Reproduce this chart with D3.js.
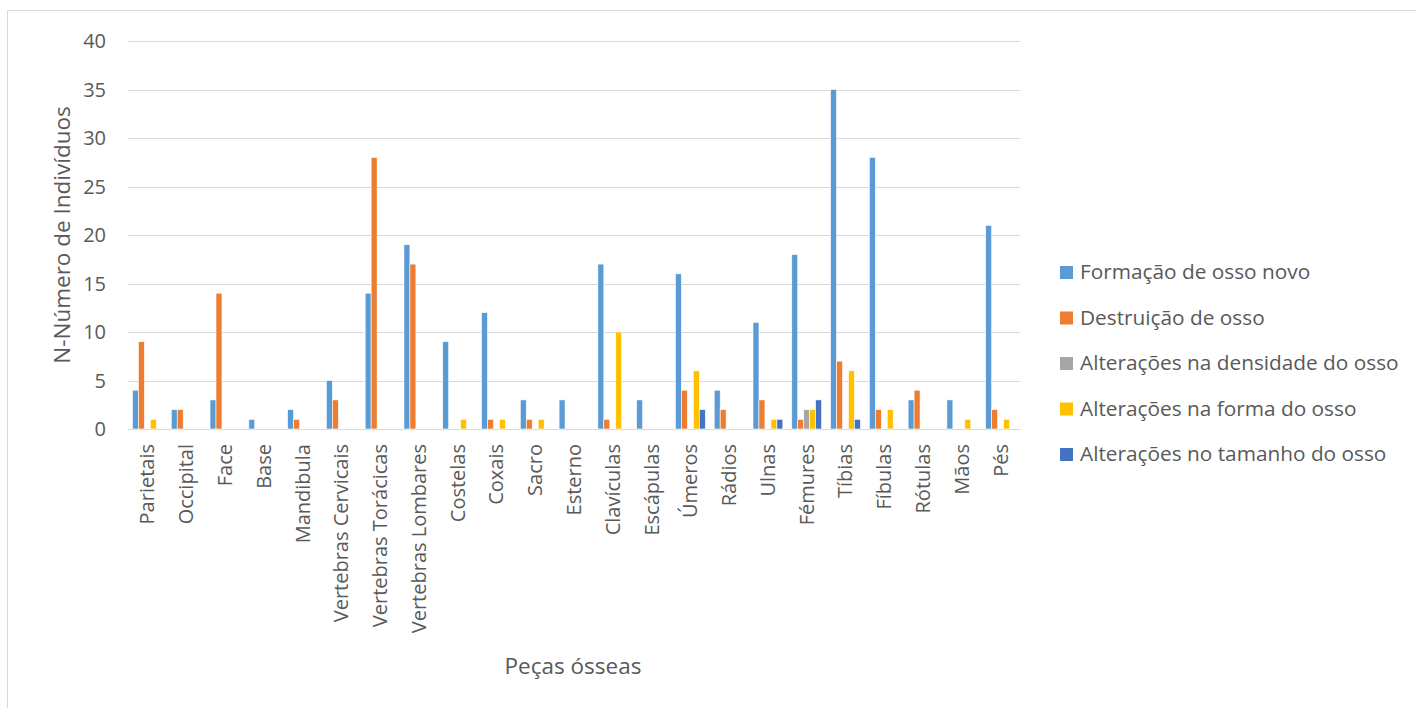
<!DOCTYPE html>
<html lang="en">
<head>
    <meta charset="utf-8">
    <script src="https://d3js.org/d3.v7.min.js"></script>
    <style>
        body { margin: 0; background: #fff; }
        text { font-family: "Open Sans", "Noto Sans", sans-serif; fill: #595959; }
    </style>
</head>
<body>
<script>

    // bone pieces on the x axis
    const categories = ["Parietais", "Occipital", "Face", "Base", "Mandibula", "Vertebras Cervicais",
        "Vertebras Torácicas", "Vertebras Lombares", "Costelas", "Coxais", "Sacro", "Esterno",
        "Clavículas", "Escápulas", "Úmeros", "Rádios", "Ulnas", "Fémures", "Tíbias", "Fíbulas",
        "Rótulas", "Mãos", "Pés"];

    const seriesNames = ["Formação de osso novo", "Destruição de osso", "Alterações na densidade do osso",
        "Alterações na forma do osso", "Alterações no tamanho do osso"];

    const formacao  = [4, 2, 3, 1, 2, 5, 14, 19, 9, 12, 3, 3, 17, 3, 16, 4, 11, 18, 35, 28, 3, 3, 21];
    const destruicao = [9, 2, 14, 0, 1, 3, 28, 17, 0, 1, 1, 0, 1, 0, 4, 2, 3, 1, 7, 2, 4, 0, 2];
    const densidade = [0, 0, 0, 0, 0, 0, 0, 0, 0, 0, 0, 0, 0, 0, 0, 0, 0, 2, 0, 0, 0, 0, 0];
    const forma     = [1, 0, 0, 0, 0, 0, 0, 0, 1, 1, 1, 0, 10, 0, 6, 0, 1, 2, 6, 2, 0, 1, 1];
    const tamanho   = [0, 0, 0, 0, 0, 0, 0, 0, 0, 0, 0, 0, 0, 0, 2, 0, 1, 3, 1, 0, 0, 0, 0];

    const yTicks = [0, 5, 10, 15, 20, 25, 30, 35, 40];

    const colors = ["#5B9BD5", "#ED7D31", "#A5A5A5", "#FFC000", "#4472C4"];
    const allSeries = [formacao, destruicao, densidade, forma, tamanho];

    const width = 1416, height = 708;
    const plotLeft = 128, plotRight = 1020, plotTop = 41, plotBottom = 429;

    const svg = d3.select("body").append("svg")
        .attr("width", width)
        .attr("height", height);

    // chart border
    svg.append("rect")
        .attr("x", 7.5).attr("y", 10.5)
        .attr("width", 1420).attr("height", 710)
        .attr("fill", "none")
        .attr("stroke", "#D9D9D9");

    const x0 = d3.scaleBand().domain(categories).range([plotLeft, plotRight]).paddingInner(0).paddingOuter(0);
    // Excel style gap: 5 bars + gap
    const gap = x0.bandwidth() * 0.75 / 6.5;
    const x1 = d3.scaleBand().domain(d3.range(5))
        .range([gap, x0.bandwidth() - gap]);

    const y = d3.scaleLinear().domain([0, 40]).range([plotBottom, plotTop]);

    // gridlines
    svg.append("g").selectAll("line")
        .data(yTicks)
        .enter().append("line")
        .attr("x1", plotLeft).attr("x2", plotRight)
        .attr("y1", d => Math.round(y(d)) + 0.5)
        .attr("y2", d => Math.round(y(d)) + 0.5)
        .attr("stroke", "#D9D9D9")
        .attr("stroke-width", 1);

    // y tick labels
    svg.append("g").selectAll("text")
        .data(yTicks)
        .enter().append("text")
        .attr("x", 106)
        .attr("y", d => y(d))
        .attr("dy", "0.35em")
        .style("text-anchor", "end")
        .style("font-size", "20px")
        .text(d => d);

    // bars
    const groups = svg.append("g").selectAll("g")
        .data(categories)
        .enter().append("g")
        .attr("transform", d => "translate(" + x0(d) + ",0)");

    groups.selectAll("rect")
        .data((d, i) => allSeries.map((s, j) => ({ j: j, v: s[i] })).filter(e => e.v > 0))
        .enter().append("rect")
        .attr("x", d => x1(d.j))
        .attr("width", x1.bandwidth())
        .attr("y", d => y(d.v))
        .attr("height", d => y(0) - y(d.v))
        .attr("fill", d => colors[d.j])
        .attr("stroke", "#fff")
        .attr("stroke-width", 0.6);

    // x tick labels (rotated)
    svg.append("g").selectAll("text")
        .data(categories)
        .enter().append("text")
        .attr("transform", d => "translate(" + (x0(d) + x0.bandwidth() / 2) + ",444) rotate(-90)")
        .attr("dy", "0.35em")
        .style("text-anchor", "end")
        .style("font-size", "20px")
        .text(d => d);

    // axis titles
    svg.append("text")
        .attr("transform", "translate(62,235) rotate(-90)")
        .attr("dy", "0.35em")
        .style("text-anchor", "middle")
        .style("font-size", "22.5px")
        .text("N-Número de Indivíduos");

    svg.append("text")
        .attr("x", 573).attr("y", 666)
        .attr("dy", "0.35em")
        .style("text-anchor", "middle")
        .style("font-size", "22.5px")
        .text("Peças ósseas");

    // legend
    const legend = svg.append("g").selectAll("g")
        .data(seriesNames)
        .enter().append("g")
        .attr("transform", (d, i) => "translate(1060," + (272 + i * 45.5) + ")");

    legend.append("rect")
        .attr("x", 0).attr("y", -6)
        .attr("width", 13).attr("height", 13)
        .attr("fill", (d, i) => colors[i]);

    legend.append("text")
        .attr("x", 20)
        .attr("dy", "0.35em")
        .style("font-size", "20.8px")
        .text(d => d);

</script>
</body>
</html>
